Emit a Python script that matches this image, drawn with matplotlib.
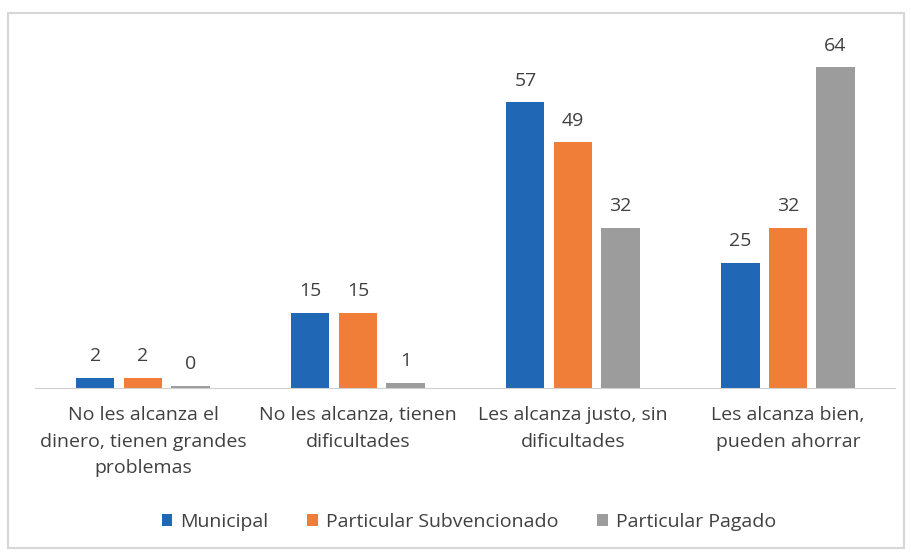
import numpy as np
import matplotlib.pyplot as plt
from matplotlib.patches import Rectangle

# Datos del gráfico
categorias = ["No les alcanza el\ndinero, tienen grandes\nproblemas",
              "No les alcanza, tienen\ndificultades",
              "Les alcanza justo, sin\ndificultades",
              "Les alcanza bien,\npueden ahorrar"]
series = ["Municipal", "Particular Subvencionado", "Particular Pagado"]
municipal = [2, 15, 57, 25]
subvencionado = [2, 15, 49, 32]
pagado = [0.4, 1, 32, 64]
colores = ["#2068B6", "#F07E38", "#9C9C9C"]

plt.rcParams["font.family"] = ["Open Sans", "DejaVu Sans"]
texto = "#404040"

fig = plt.figure(figsize=(9.12, 5.52), dpi=100)
ax = fig.add_axes([0.0389, 0.2971, 0.943, 0.636])

x = np.arange(len(categorias))
ancho = 0.177
paso = 0.221

for i, (nombre, valores) in enumerate(zip(series, [municipal, subvencionado, pagado])):
    barras = ax.bar(x + (i - 1) * paso, valores, ancho, color=colores[i], label=nombre)
    for b, v in zip(barras, valores):
        ax.annotate(f"{v:.0f}", (b.get_x() + b.get_width() / 2, b.get_height()),
                    xytext=(0, 9), textcoords="offset points",
                    ha="center", va="bottom", fontsize=14, color=texto)

ax.set_xlim(-0.5, 3.5)
ax.set_ylim(0, 70)
ax.set_xticks(x)
ax.set_xticklabels(categorias, fontsize=14, color=texto, linespacing=1.62)
ax.tick_params(axis="x", length=0, pad=13)
ax.set_yticks([])
for lado in ["top", "right", "left"]:
    ax.spines[lado].set_visible(False)
ax.spines["bottom"].set_color("#D0D0D0")

leg = fig.legend(loc="center", bbox_to_anchor=(0.514, 0.054), ncol=3, frameon=False,
                 fontsize=14, handlelength=0.55, handleheight=0.55, handletextpad=0.4,
                 columnspacing=2.0)
for t in leg.get_texts():
    t.set_color(texto)

# Marco exterior
fig.patches.append(Rectangle((8.5 / 912, 4 / 552), 896 / 912, 535.5 / 552,
                             transform=fig.transFigure, fill=False,
                             edgecolor="#D6D6D6", linewidth=1.5))

fig.savefig("out.png", dpi=100)
